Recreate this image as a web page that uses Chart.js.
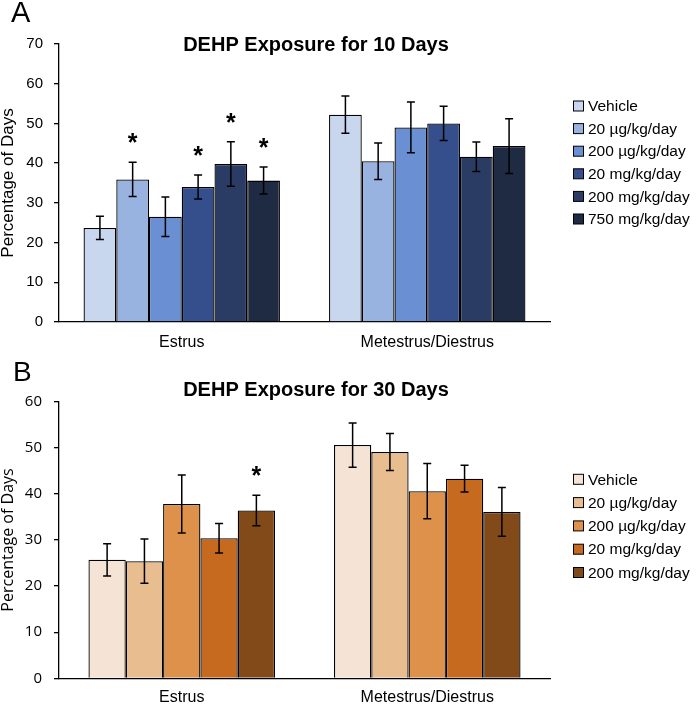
<!DOCTYPE html>
<html>
<head>
<meta charset="utf-8">
<script src="https://cdn.jsdelivr.net/npm/chart.js@4.4.1/dist/chart.umd.min.js"></script>
<style>
  body { margin:0; background:#fff; width:697px; height:704px; position:relative; overflow:hidden; }
  .panel { position:absolute; left:0; width:697px; }
  .letter { position:absolute; font-family:"Liberation Sans", Arial, sans-serif; color:#000; }
</style>
</head>
<body>
<div class="panel" style="top:0;height:370px"><canvas id="chartA" width="697" height="370"></canvas></div>
<div class="panel" style="top:340px;height:364px"><canvas id="chartB" width="697" height="364"></canvas></div>
<div class="letter" style="left:11px;top:-2px;font-size:29px;line-height:29px">A</div>
<div class="letter" style="left:13px;top:358px;font-size:28px;line-height:28px">B</div>
<script>
// categories
var phases = ['Estrus', 'Metestrus/Diestrus'];

// panel A - 10 days
var dosesA = ['Vehicle', '20 µg/kg/day', '200 µg/kg/day', '20 mg/kg/day', '200 mg/kg/day', '750 mg/kg/day'];
var meansA = [[23.7, 52.2], [35.9, 40.5], [26.5, 49.0], [34.0, 50.0], [39.8, 41.6], [35.6, 44.3]];
var errA   = [[2.9, 4.7], [4.3, 4.6], [5.0, 6.4], [3.0, 4.3], [5.6, 3.7], [3.4, 6.9]];
var sigA   = [[0, 0], [1, 0], [0, 0], [1, 0], [1, 0], [1, 0]];
var colorsA = ['#c8d7ee', '#98b3e0', '#6a8fd3', '#344f8c', '#2b3c64', '#1f2b42'];
var ticksA = [0, 10, 20, 30, 40, 50, 60, 70];

// panel B - 30 days
var dosesB = ['Vehicle', '20 µg/kg/day', '200 µg/kg/day', '20 mg/kg/day', '200 mg/kg/day'];
var meansB = [[25.7, 50.6], [25.4, 49.1], [37.8, 40.6], [30.4, 43.3], [36.4, 36.1]];
var errB   = [[3.5, 4.8], [4.8, 4.0], [6.3, 6.0], [3.2, 2.9], [3.3, 5.3]];
var sigB   = [[0, 0], [0, 0], [0, 0], [0, 0], [1, 0]];
var colorsB = ['#f5e4d5', '#e8bd8f', '#de914b', '#c56a1f', '#834a19'];
var ticksB = [0, 10, 20, 30, 40, 50, 60];

var ARIAL = '"Liberation Sans", Arial, sans-serif';

// error bars + asterisks
var errorBars = {
  id: 'errorBars',
  afterDatasetsDraw: function(chart) {
    var ctx = chart.ctx, y = chart.scales.y;
    chart.data.datasets.forEach(function(ds, i) {
      chart.getDatasetMeta(i).data.forEach(function(bar, j) {
        var v = ds.data[j], e = ds.errors[j];
        var top = y.getPixelForValue(v + e), bot = y.getPixelForValue(v - e);
        ctx.save();
        ctx.strokeStyle = '#000';
        ctx.lineWidth = 1.5;
        ctx.beginPath();
        ctx.moveTo(bar.x, top); ctx.lineTo(bar.x, bot);
        ctx.moveTo(bar.x - 4, top); ctx.lineTo(bar.x + 4, top);
        ctx.moveTo(bar.x - 4, bot); ctx.lineTo(bar.x + 4, bot);
        ctx.stroke();
        if (ds.sig[j]) {
          ctx.fillStyle = '#000';
          ctx.font = 'bold 25px ' + ARIAL;
          ctx.textAlign = 'center';
          ctx.textBaseline = 'alphabetic';
          ctx.fillText('*', bar.x, top - 25 + 14);
        }
        ctx.restore();
      });
    });
  }
};

// title and legend drawn at fixed spots like the original figure
var decor = {
  id: 'decor',
  afterDraw: function(chart, args, o) {
    var ctx = chart.ctx;
    ctx.save();
    ctx.fillStyle = '#000';
    ctx.font = 'bold 20px ' + ARIAL;
    ctx.textAlign = 'center';
    ctx.textBaseline = 'middle';
    ctx.fillText(o.title, o.titleX, o.titleY);
    ctx.font = o.legendFont;
    ctx.textAlign = 'left';
    chart.data.datasets.forEach(function(ds, i) {
      var cy = o.legendY + i * o.legendStep;
      ctx.fillStyle = ds.backgroundColor;
      ctx.fillRect(573.5, cy - 5, 10, 10);
      ctx.strokeStyle = '#000';
      ctx.lineWidth = 1;
      ctx.strokeRect(573.5, cy - 5, 10, 10);
      ctx.fillStyle = '#000';
      ctx.fillText(ds.label, 588, cy + 1);
    });
    ctx.restore();
  }
};

function makeChart(id, doses, means, errs, sigs, colors, ticks, cfg) {
  var datasets = doses.map(function(d, i) {
    return {
      label: d,
      data: means[i],
      errors: errs[i],
      sig: sigs[i],
      backgroundColor: colors[i],
      borderColor: '#000',
      borderWidth: 1.3,
      categoryPercentage: cfg.catPct,
      barPercentage: 1.0
    };
  });
  return new Chart(document.getElementById(id), {
    type: 'bar',
    data: { labels: phases, datasets: datasets },
    options: {
      responsive: false,
      animation: false,
      layout: { padding: { top: cfg.top, right: 147, left: 0, bottom: cfg.bottom } },
      plugins: {
        legend: { display: false },
        tooltip: { enabled: false },
        decor: cfg.decor
      },
      scales: {
        x: {
          grid: { display: false, drawTicks: false },
          border: { display: true, color: '#000', width: 1.3 },
          ticks: { color: '#000', font: { family: ARIAL, size: 16 }, padding: cfg.xPad },
          afterFit: function(s) { s.height = cfg.xHeight; }
        },
        y: {
          min: 0,
          max: ticks[ticks.length - 1],
          afterBuildTicks: function(s) { s.ticks = ticks.map(function(t) { return { value: t }; }); },
          grid: { display: true, drawOnChartArea: false, drawTicks: true, tickLength: 5, color: '#000', lineWidth: 1.3 },
          border: { display: true, color: '#000', width: 1.3 },
          ticks: { color: '#000', font: cfg.tickFont, padding: cfg.yPad },
          title: { display: true, text: 'Percentage of Days', color: '#000', font: cfg.yTitleFont, padding: 0 },
          afterFit: function(s) { s.width = 59; }
        }
      }
    },
    plugins: [errorBars, decor]
  });
}

makeChart('chartA', dosesA, meansA, errA, sigA, colorsA, ticksA, {
  catPct: 0.8, top: 44, bottom: 14, xHeight: 34, xPad: 11, yPad: 11,
  tickFont: { family: ARIAL, size: 15 },
  yTitleFont: { family: ARIAL, size: 17, lineHeight: 1 },
  decor: { title: 'DEHP Exposure for 10 Days', titleX: 316, titleY: 45, legendY: 106, legendStep: 22.6, legendFont: '15.5px ' + ARIAL }
});

makeChart('chartB', dosesB, meansB, errB, sigB, colorsB, ticksB, {
  catPct: 0.76, top: 61.7, bottom: 0, xHeight: 25.7, xPad: 10, yPad: 12,
  tickFont: { family: '"Open Sans", sans-serif', size: 15 },
  yTitleFont: { family: '"Open Sans", sans-serif', size: 16, lineHeight: 1 },
  decor: { title: 'DEHP Exposure for 30 Days', titleX: 316, titleY: 50, legendY: 139.3, legendStep: 23.3, legendFont: '15.5px ' + ARIAL }
});
</script>
</body>
</html>
